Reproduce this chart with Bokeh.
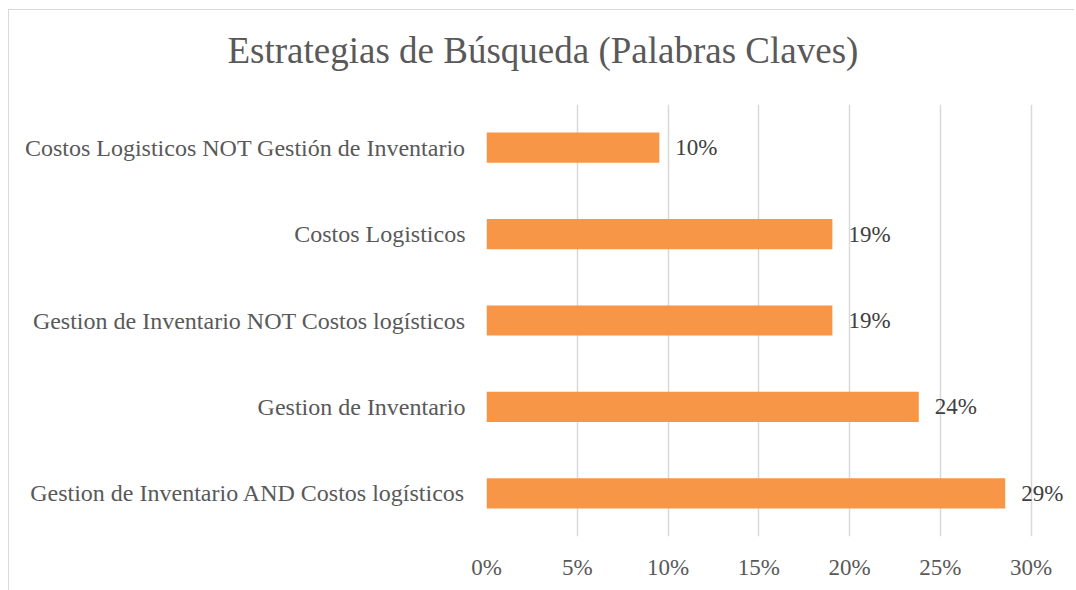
from bokeh.plotting import figure
from bokeh.models import ColumnDataSource, FactorRange, Range1d, FixedTicker, NumeralTickFormatter, LabelSet, Title
from bokeh.embed import file_html
from bokeh.resources import INLINE

categories = [
    "Costos Logisticos NOT Gestión de Inventario",
    "Costos Logisticos",
    "Gestion de Inventario NOT Costos logísticos",
    "Gestion de Inventario",
    "Gestion de Inventario AND Costos logísticos",
]
values = [0.0952, 0.1905, 0.1905, 0.2381, 0.2857]
x_ticks = [0.0, 0.05, 0.10, 0.15, 0.20, 0.25, 0.30]
title_text = "Estrategias de Búsqueda (Palabras Claves)"

labels = [f"{round(v * 100)}%" for v in values]
src = ColumnDataSource(dict(cat=categories, val=values, lab=labels))

FONT = "Liberation Serif"

p = figure(
    width=1066, height=581,
    y_range=FactorRange(factors=list(reversed(categories))),
    x_range=Range1d(0, 0.32),
    output_backend="svg", toolbar_location=None,
    title=title_text,
    min_border_left=477, min_border_right=8, min_border_top=94, min_border_bottom=55,
    margin=(9, 0, 0, 8),
    styles={"border-left": "1.5px solid #d9d9d9", "border-top": "1.5px solid #d9d9d9"},
)
p.outline_line_color = None
p.background_fill_color = "white"
p.border_fill_color = "white"

p.title.text_font = FONT
p.title.text_font_size = "37px"
p.title.text_font_style = "normal"
p.title.text_color = "#595959"
p.title.align = "left"
p.title.offset = -259
p.title.standoff = 0

# blank spacer panel between the title and the plot frame
spacer = Title(text=" ", text_font_size="1px", standoff=31)
p.add_layout(spacer, "above")

p.hbar(y="cat", right="val", left=0, height=0.35, source=src, color="#F79646", line_color=None)

p.add_layout(LabelSet(x="val", y="cat", text="lab", source=src, x_offset=16, y_offset=0,
                      text_baseline="middle", text_font=FONT, text_font_size="23px",
                      text_color="#404040"))

p.xaxis.ticker = FixedTicker(ticks=x_ticks)
p.xaxis.formatter = NumeralTickFormatter(format="0%")
p.xgrid.ticker = FixedTicker(ticks=x_ticks)
p.xgrid.grid_line_color = "#d9d9d9"
p.xgrid.grid_line_width = 1.5
p.ygrid.grid_line_color = None

for ax in (p.xaxis, p.yaxis):
    ax.axis_line_color = None
    ax.major_tick_line_color = None
    ax.minor_tick_line_color = None
    ax.major_tick_out = 0
    ax.major_tick_in = 0
    ax.major_label_text_font = FONT
    ax.major_label_text_color = "#595959"

p.xaxis.major_label_text_font_size = "23px"
p.yaxis.major_label_text_font_size = "24px"
p.xaxis.major_label_standoff = 18
p.yaxis.major_label_standoff = 21

open("out.html", "w").write(file_html(p, INLINE))
